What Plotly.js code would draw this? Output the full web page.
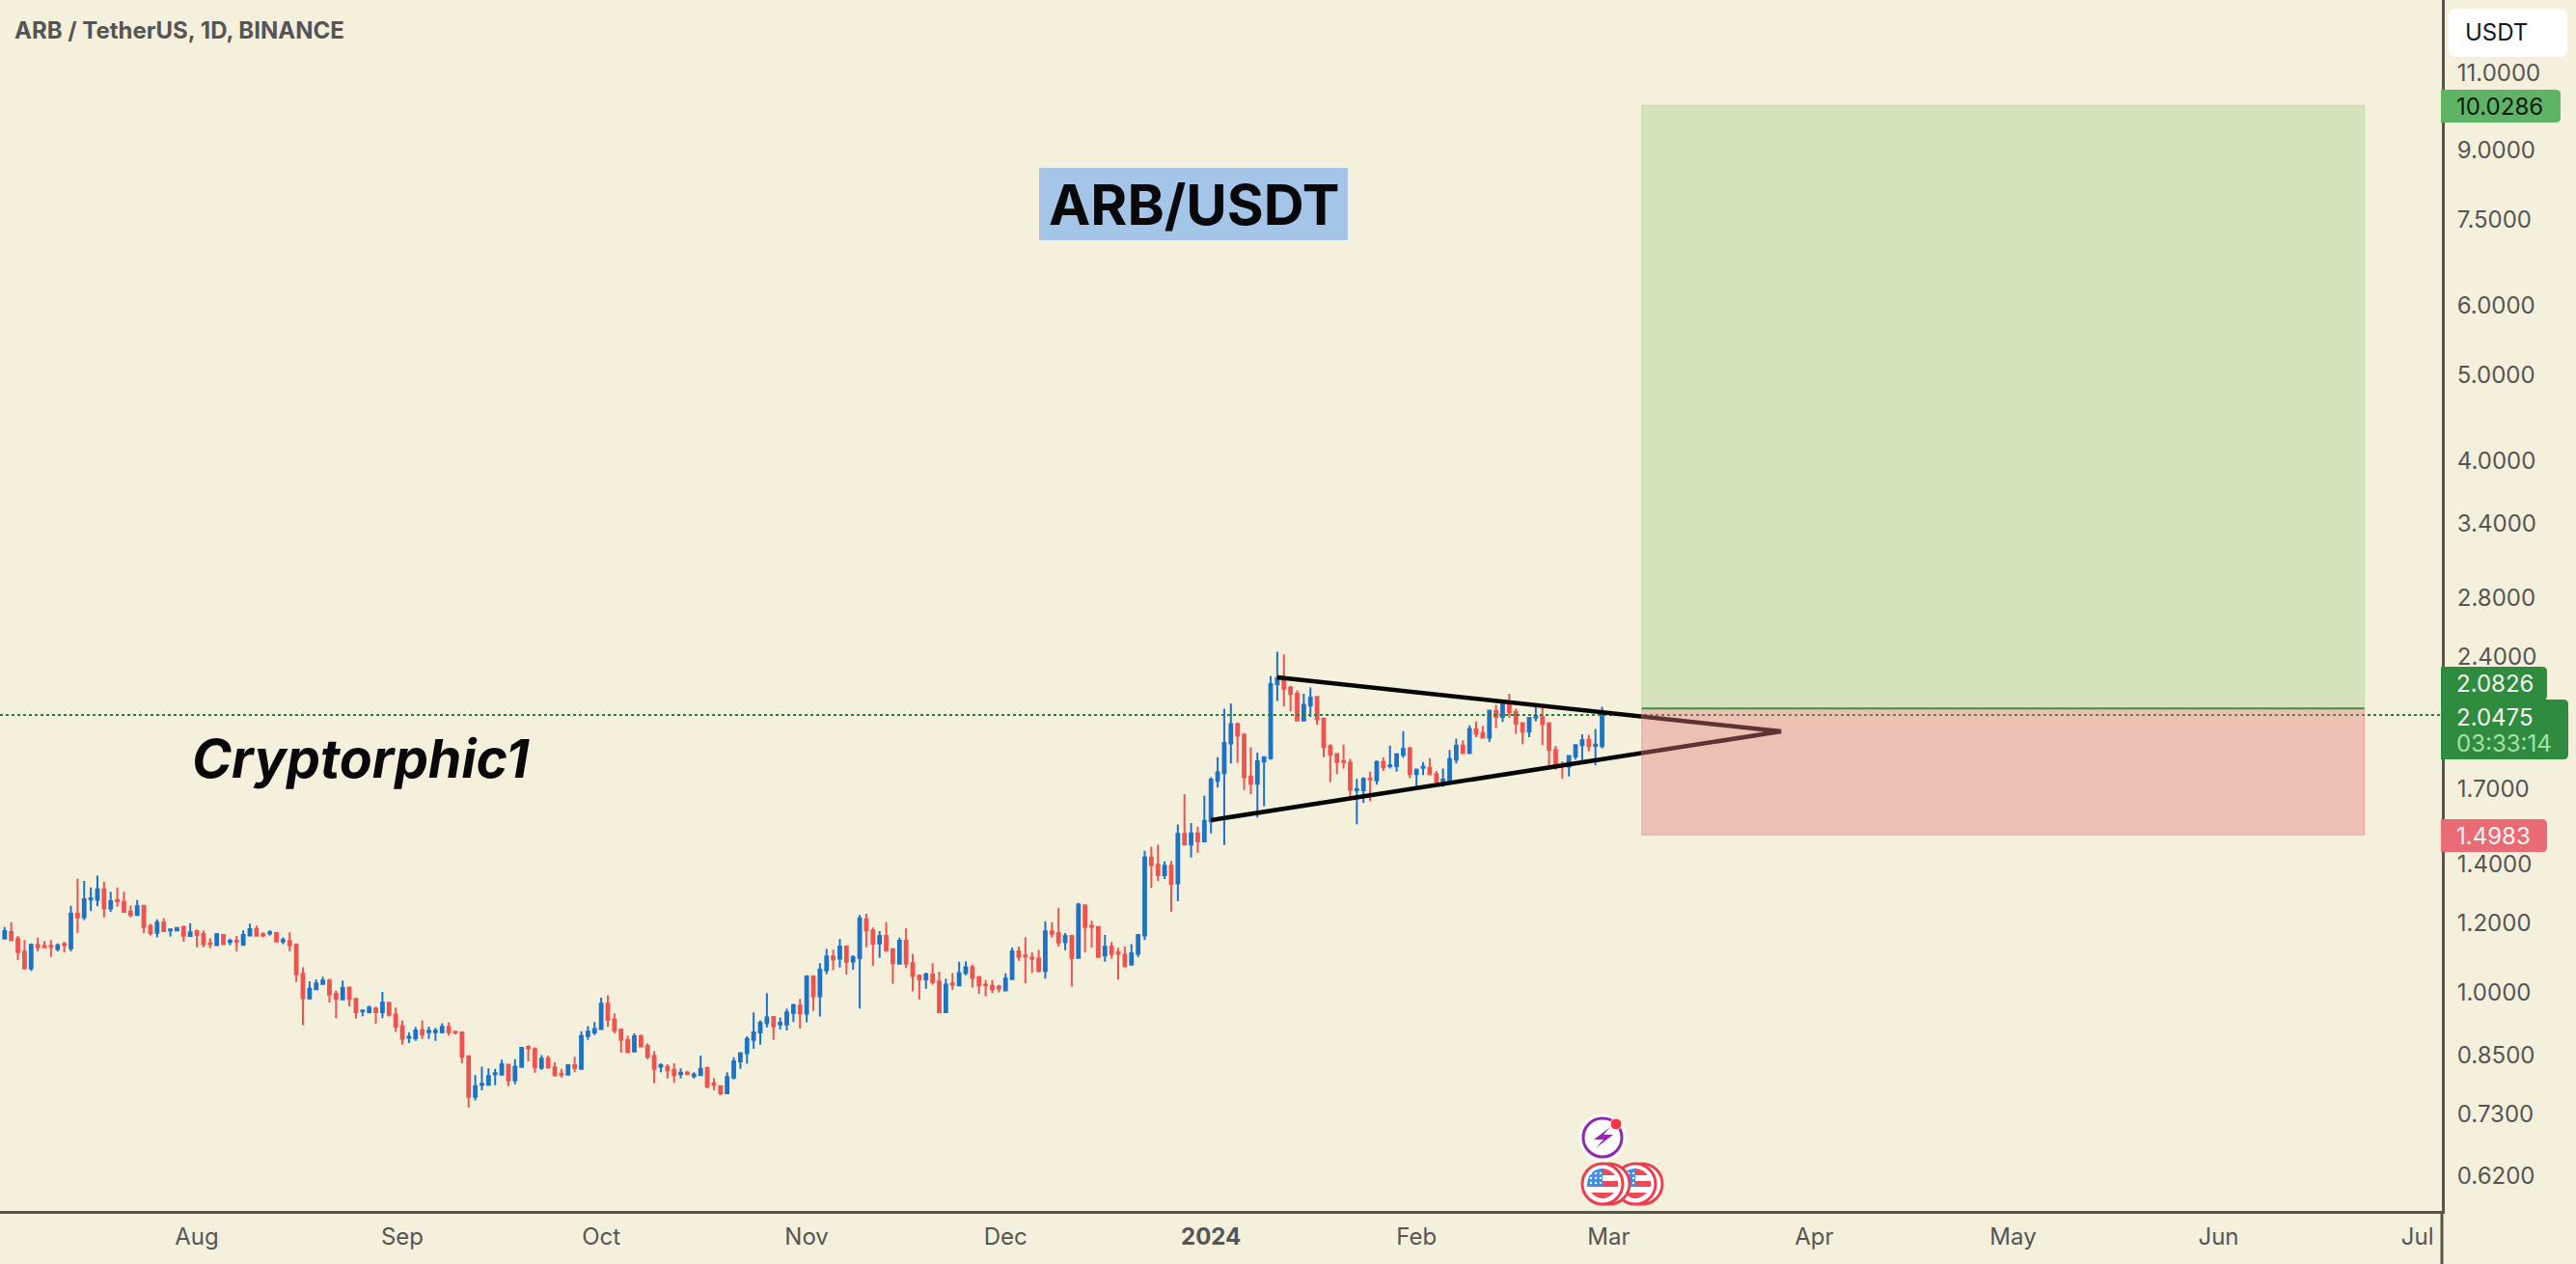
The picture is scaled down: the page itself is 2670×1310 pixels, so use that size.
<!DOCTYPE html>
<html>
<head>
<meta charset="utf-8">
<script src="https://cdn.plot.ly/plotly-3.0.1.min.js"></script>
<style>html,body{margin:0;padding:0;background:#F5F0DC;overflow:hidden}</style>
</head>
<body>
<div id="chart" style="width:2670px;height:1310px"></div>
<script>
const firstDay = '2023-07-03';
const opens = [1.143,1.163,1.143,1.105,1.058,1.125,1.122,1.122,1.113,1.127,1.115,1.220,1.208,1.266,1.265,1.300,1.237,1.264,1.258,1.227,1.216,1.245,1.181,1.161,1.192,1.168,1.168,1.178,1.151,1.166,1.157,1.130,1.124,1.154,1.133,1.137,1.125,1.153,1.172,1.157,1.159,1.160,1.135,1.136,1.125,1.043,.978,1.002,1.016,1.025,.990,.976,1.006,.977,.946,.944,.953,.944,.967,.938,.910,.883,.882,.901,.896,.896,.896,.908,.897,.895,.841,.757,.781,.781,.803,.802,.823,.790,.818,.862,.857,.816,.836,.817,.804,.802,.822,
.814,.887,.895,.903,.965,.926,.902,.878,.852,.887,.864,.842,.819,.819,.812,.803,.806,.799,.801,.816,.784,.778,.764,.796,.830,.848,.878,.895,.917,.932,.914,.914,.942,.960,.940,1.036,.984,1.053,1.091,1.085,1.120,1.077,1.087,1.202,1.168,1.129,1.151,1.112,1.071,1.137,1.072,1.038,1.028,1.041,1.022,.944,1.017,1.012,1.045,1.061,1.033,1.014,1.011,1.009,.999,1.029,1.106,1.094,1.088,1.085,1.051,1.165,1.160,1.133,1.151,1.087,1.247,1.182,1.178,1.094,1.119,1.103,1.096,1.068,1.099,
1.153,1.412,1.386,1.349,1.382,1.320,1.502,1.461,1.504,1.473,1.552,1.725,1.760,1.901,1.999,1.945,1.744,1.712,1.814,1.830,2.218,2.255,2.198,2.165,2.019,2.099,2.147,2.029,1.888,1.849,1.815,1.808,1.683,1.683,1.735,1.727,1.811,1.792,1.792,1.846,1.877,1.755,1.784,1.784,1.755,1.724,1.725,1.823,1.891,1.854,1.973,1.953,1.930,2.069,2.038,2.109,2.064,2.004,1.961,2.034,2.036,2.004,1.869,1.797,1.790,1.838,1.893,1.919,1.890,1.890];
const highs = [1.178,1.193,1.151,1.139,1.129,1.146,1.136,1.139,1.129,1.134,1.245,1.336,1.329,1.306,1.347,1.325,1.292,1.306,1.292,1.246,1.264,1.246,1.188,1.202,1.205,1.173,1.175,1.183,1.190,1.170,1.168,1.145,1.160,1.154,1.143,1.151,1.168,1.189,1.183,1.162,1.169,1.161,1.147,1.162,1.129,1.061,1.023,1.028,1.035,1.030,.999,1.025,1.008,.978,.950,.960,.957,.995,.968,.955,.924,.895,.908,.924,.909,.906,.917,.919,.899,.896,.843,.801,.819,.815,.814,.834,.824,.835,.862,.866,.861,.844,.843,.828,.814,.823,.840,
.898,.910,.920,.980,.986,.941,.903,.888,.893,.890,.870,.853,.826,.824,.826,.815,.810,.807,.843,.817,.795,.780,.807,.839,.849,.886,.943,.924,.992,.934,.931,.953,.965,.977,1.039,1.039,1.072,1.113,1.111,1.142,1.122,1.095,1.216,1.220,1.177,1.166,1.193,1.113,1.146,1.175,1.099,1.041,1.046,1.072,1.049,1.030,1.045,1.076,1.078,1.068,1.038,1.027,1.026,1.013,1.044,1.117,1.120,1.147,1.103,1.109,1.196,1.193,1.239,1.160,1.155,1.255,1.248,1.198,1.180,1.154,1.133,1.116,1.120,1.127,1.156,
1.437,1.453,1.460,1.398,1.400,1.539,1.666,1.545,1.531,1.660,1.741,1.835,2.081,2.111,2.008,1.953,1.882,1.857,1.835,2.267,2.415,2.398,2.211,2.183,2.165,2.200,2.152,2.033,1.898,1.851,1.896,1.826,1.734,1.741,1.767,1.818,1.833,1.891,1.854,1.963,1.885,1.781,1.811,1.830,1.770,1.781,1.869,1.925,1.917,1.993,2.013,1.991,2.074,2.102,2.124,2.165,2.081,2.008,2.036,2.102,2.085,2.008,1.890,1.815,1.844,1.896,1.947,1.945,1.975,2.092];
const lows = [1.143,1.137,1.081,1.054,1.051,1.106,1.118,1.090,1.106,1.103,1.106,1.160,1.200,1.228,1.244,1.208,1.226,1.242,1.226,1.208,1.212,1.160,1.152,1.147,1.163,1.149,1.167,1.134,1.149,1.118,1.118,1.115,1.123,1.126,1.123,1.106,1.124,1.152,1.151,1.147,1.152,1.134,1.127,1.106,1.021,.912,.975,1.000,1.013,.968,.929,.974,.958,.928,.934,.941,.916,.929,.933,.897,.867,.871,.876,.880,.880,.876,.893,.888,.891,.826,.736,.750,.770,.780,.780,.801,.778,.782,.817,.830,.806,.812,.814,.798,.796,.801,.807,
.814,.878,.889,.902,.908,.893,.849,.848,.851,.862,.835,.784,.807,.794,.785,.794,.801,.794,.799,.774,.770,.760,.764,.792,.814,.825,.858,.867,.907,.878,.902,.900,.920,.904,.919,.947,.933,1.042,1.053,1.060,1.041,1.054,.953,1.118,1.065,1.087,1.104,1.016,1.069,1.059,.996,.976,1.003,1.014,.943,.943,1.000,1.011,1.039,1.006,.990,.984,.992,.994,.996,1.028,1.079,1.018,1.045,1.047,1.030,1.146,1.120,1.109,1.009,1.087,1.103,1.116,1.087,1.076,1.085,1.028,1.060,1.067,1.090,
1.139,1.305,1.329,1.335,1.226,1.260,1.460,1.412,1.430,1.472,1.504,1.695,1.459,1.805,1.808,1.684,1.666,1.568,1.615,1.823,2.124,2.094,2.067,2.016,2.016,2.037,1.996,1.835,1.719,1.756,1.781,1.649,1.540,1.628,1.635,1.708,1.770,1.781,1.767,1.832,1.737,1.684,1.751,1.751,1.712,1.698,1.722,1.805,1.851,1.854,1.933,1.925,1.909,1.979,2.011,2.033,1.950,1.898,1.933,2.013,1.893,1.796,1.775,1.734,1.745,1.823,1.803,1.862,1.796,1.877];
const closes = [1.166,1.139,1.104,1.058,1.125,1.118,1.118,1.119,1.123,1.124,1.220,1.208,1.267,1.270,1.300,1.237,1.260,1.260,1.226,1.216,1.244,1.178,1.160,1.192,1.166,1.171,1.175,1.152,1.162,1.154,1.127,1.127,1.156,1.127,1.137,1.133,1.154,1.172,1.152,1.153,1.162,1.135,1.139,1.124,1.042,.979,1.003,1.017,1.025,.988,.977,1.005,.977,.944,.948,.955,.944,.967,.937,.909,.880,.885,.900,.891,.899,.899,.908,.896,.895,.840,.757,.778,.783,.799,.805,.824,.790,.819,.860,.859,.818,.836,.817,.801,.802,.822,.816,
.887,.897,.903,.965,.925,.900,.878,.851,.886,.863,.840,.814,.822,.811,.801,.806,.803,.802,.814,.777,.781,.764,.797,.830,.848,.880,.895,.918,.931,.910,.918,.943,.961,.940,1.036,.984,1.054,1.091,1.083,1.119,1.076,1.089,1.205,1.168,1.128,1.151,1.109,1.072,1.137,1.071,1.037,1.028,1.042,1.021,.944,1.014,1.014,1.045,1.061,1.032,1.012,1.012,1.002,1.004,1.030,1.106,1.090,1.091,1.085,1.051,1.165,1.158,1.131,1.151,1.087,1.249,1.178,1.179,1.090,1.119,1.098,1.099,1.064,1.100,1.154,
1.412,1.385,1.349,1.382,1.319,1.502,1.461,1.504,1.473,1.554,1.730,1.763,1.904,1.999,1.941,1.741,1.712,1.815,1.835,2.220,2.255,2.193,2.163,2.019,2.102,2.143,2.025,1.884,1.846,1.811,1.811,1.685,1.687,1.733,1.731,1.812,1.787,1.796,1.848,1.874,1.755,1.775,1.790,1.754,1.722,1.730,1.825,1.890,1.854,1.973,1.950,1.930,2.071,2.038,2.107,2.062,2.002,1.961,2.033,2.041,1.999,1.869,1.793,1.793,1.840,1.893,1.917,1.888,1.895,2.0475];

const yTicks = [11,9,7.5,6,5,4,3.4,2.8,2.4,1.7,1.4,1.2,1,0.85,0.73,0.62];
const yTickLabels = ['11.0000','9.0000','7.5000','6.0000','5.0000','4.0000','3.4000','2.8000','2.4000','1.7000','1.4000','1.2000','1.0000','0.8500','0.7300','0.6200'];
const xTicks = ['2023-08-01','2023-09-01','2023-10-01','2023-11-01','2023-12-01','2024-01-01','2024-02-01','2024-03-01','2024-04-01','2024-05-01','2024-06-01','2024-07-01'];
const xTickLabels = ['Aug','Sep','Oct','Nov','Dec','<b>2024</b>','Feb','Mar','Apr','May','Jun','Jul'];

const lastPrice = 2.0475;
const entryPrice = 2.0826;
const targetPrice = 10.0286;
const stopPrice = 1.4983;
const boxDates = ['2024-03-06','2024-06-23'];
const triangleDates = ['2024-01-11','2024-03-27','2024-01-01'];
const trianglePrices = [2.259,1.962,1.557];
const xRange = ['2023-07-02 07:12','2024-07-04 16:48'];

const W = 2531, H = 1255;
const FONT = 'Inter, "Noto Sans", sans-serif';
const dates = opens.map((_, i) => {
  const d = new Date(Date.parse(firstDay + 'T00:00:00Z') + i * 86400000);
  return d.toISOString().slice(0, 10);
});

const px = x => x / W;
const py = y => 1 - y / H;
const P = (x, y) => px(x) + ',' + py(y);
const base = {xref: 'paper', yref: 'paper', layer: 'above'};

function tagPath(x0, y0, x1, y1, r) {
  return 'M' + P(x0, y0) + ' L' + P(x1 - r, y0) + ' Q' + P(x1, y0) + ' ' + P(x1, y0 + r) +
         ' L' + P(x1, y1 - r) + ' Q' + P(x1, y1) + ' ' + P(x1 - r, y1) + ' L' + P(x0, y1) + ' Z';
}
function roundPath(x0, y0, x1, y1, r) {
  return 'M' + P(x0 + r, y0) + ' L' + P(x1 - r, y0) + ' Q' + P(x1, y0) + ' ' + P(x1, y0 + r) +
         ' L' + P(x1, y1 - r) + ' Q' + P(x1, y1) + ' ' + P(x1 - r, y1) + ' L' + P(x0 + r, y1) +
         ' Q' + P(x0, y1) + ' ' + P(x0, y1 - r) + ' L' + P(x0, y0 + r) + ' Q' + P(x0, y0) + ' ' + P(x0 + r, y0) + ' Z';
}
function circle(cx, cy, r, fill, lineColor, lineWidth) {
  return Object.assign({}, base, {type: 'circle', x0: px(cx - r), x1: px(cx + r), y0: py(cy + r), y1: py(cy - r),
    fillcolor: fill, line: {color: lineColor || fill, width: lineWidth || 0}});
}
function pathShape(path, fill) {
  return Object.assign({}, base, {type: 'path', path, fillcolor: fill, line: {width: 0}});
}
function flag(cx, cy) {
  const out = [];
  const red = '#EC4A55', blue = '#3D8FEA';
  out.push(circle(cx, cy, 21, '#FFFFFF', '#E9404F', 3));
  out.push(pathShape('M' + P(cx - 16, cy + 3) + ' L' + P(cx, cy + 3) + ' L' + P(cx, cy - 16) + ' Q' + P(cx - 16, cy - 15) + ' ' + P(cx - 16, cy + 3) + ' Z', blue));
  out.push(pathShape('M' + P(cx, cy - 16) + ' Q' + P(cx + 9, cy - 15) + ' ' + P(cx + 13, cy - 9) + ' L' + P(cx, cy - 9) + ' Z', red));
  out.push(pathShape('M' + P(cx, cy - 3) + ' L' + P(cx + 16, cy - 3) + ' L' + P(cx + 16, cy + 3) + ' L' + P(cx, cy + 3) + ' Z', red));
  out.push(pathShape('M' + P(cx - 12, cy + 9) + ' L' + P(cx + 12, cy + 9) + ' Q' + P(cx, cy + 21) + ' ' + P(cx - 12, cy + 9) + ' Z', red));
  for (let i = 0; i < 3; i++) for (let j = 0; j < 3; j++) {
    out.push(circle(cx - 12 + i * 5, cy - 11 + j * 5, 1.2, '#FFFFFF'));
  }
  return out;
}
const bolt = 'M' + P(1669, 1168) + ' L' + P(1652, 1181) + ' L' + P(1662, 1181) + ' L' + P(1654, 1190) +
             ' L' + P(1672, 1176) + ' L' + P(1662, 1176) + ' Z';

const shapes = [
  // ARB/USDT label
  Object.assign({}, base, {type: 'rect', x0: px(1077), x1: px(1397), y0: py(249), y1: py(174), fillcolor: '#A4C4E8', line: {width: 0}}),
  // axis extension to bottom
  Object.assign({}, base, {type: 'line', x0: px(2531), x1: px(2531), y0: py(H), y1: py(1310), line: {color: '#555550', width: 3}}),
  // USDT box
  pathShape(roundPath(2538, 9, 2661, 59, 8), '#FFFFFF'),
  // price tags
  pathShape(tagPath(2530, 93, 2654, 127, 5), '#5FB366'),
  pathShape(tagPath(2530, 691, 2640, 726, 5), '#2F8C3E'),
  pathShape(tagPath(2530, 725, 2662, 787, 5), '#2F8C3E'),
  pathShape(tagPath(2530, 849, 2640, 883, 5), '#E96B75'),
  // event icons
  circle(1661, 1179, 25, 'rgba(255,255,255,0.75)'),
  circle(1661, 1179, 20, '#FFFFFF', '#8E2AAE', 3),
  pathShape(bolt, '#8E2AAE'),
  circle(1675, 1165, 6, '#F23645', '#FFFFFF', 1),
  circle(1702, 1227, 21, '#FFFFFF', '#E9404F', 3)
].concat(flag(1695, 1227), [circle(1668, 1227, 21, '#FFFFFF', '#E9404F', 3)], flag(1661, 1227));

function label(x, y, text, size, color, anchor) {
  return {xref: 'paper', yref: 'paper', x: px(x), y: py(y), text, showarrow: false,
    xanchor: anchor || 'left', yanchor: 'middle', font: {family: FONT, size, color}};
}
const annotations = [
  label(13, 31, '<b>ARB / TetherUS, 1D, BINANCE</b>', 24, '#555555'),
  label(1237, 212, '<b>ARB/USDT</b>', 58, '#08080A', 'center'),
  label(197, 785, '<b><i>Cryptorphic1</i></b>', 55.5, '#08080A'),
  label(2553, 34, 'USDT', 24, '#131722'),
  label(2544, 110, '10.0286', 24, '#0C1A0C'),
  label(2544, 708, '2.0826', 24, '#F4F4F0'),
  label(2544, 743, '2.0475', 24, '#F4F4F0'),
  label(2544, 770, '03:33:14', 24, '#A8E0A8'),
  label(2544, 866, '1.4983', 24, '#F8F4F0')
];

const traces = [
  {type: 'candlestick', x: dates, open: opens, high: highs, low: lows, close: closes,
   increasing: {line: {color: '#1B72CC', width: 2}, fillcolor: '#26789C'},
   decreasing: {line: {color: '#EF5350', width: 2}, fillcolor: '#EF5350'},
   whiskerwidth: 0, hoverinfo: 'skip', showlegend: false},
  {type: 'scatter', mode: 'lines', x: xRange, y: [lastPrice, lastPrice],
   line: {color: '#2F7A3A', width: 2, dash: 'dot'}, hoverinfo: 'skip', showlegend: false},
  {type: 'scatter', mode: 'lines', x: triangleDates, y: trianglePrices,
   line: {color: '#050505', width: 4.5}, hoverinfo: 'skip', showlegend: false},
  {type: 'scatter', mode: 'lines', x: [boxDates[0], boxDates[1], boxDates[1], boxDates[0], boxDates[0]],
   y: [entryPrice, entryPrice, targetPrice, targetPrice, entryPrice], fill: 'toself',
   fillcolor: 'rgba(165,207,142,0.4)', line: {color: 'rgba(165,207,142,0.5)', width: 1}, hoverinfo: 'skip', showlegend: false},
  {type: 'scatter', mode: 'lines', x: [boxDates[0], boxDates[1], boxDates[1], boxDates[0], boxDates[0]],
   y: [entryPrice, entryPrice, stopPrice, stopPrice, entryPrice], fill: 'toself',
   fillcolor: 'rgba(225,120,120,0.4)', line: {color: 'rgba(225,120,120,0.5)', width: 1}, hoverinfo: 'skip', showlegend: false},
  {type: 'scatter', mode: 'lines', x: boxDates, y: [entryPrice, entryPrice],
   line: {color: '#3F9145', width: 2}, hoverinfo: 'skip', showlegend: false}
];

const layout = {
  width: 2670, height: 1310, autosize: false,
  margin: {l: 0, r: 139, t: 0, b: 55, pad: 0},
  paper_bgcolor: '#F5F0DC', plot_bgcolor: '#F5F0DC',
  showlegend: false, boxgap: 0.42,
  xaxis: {type: 'date', range: xRange, showgrid: false, zeroline: false,
    rangeslider: {visible: false}, tickmode: 'array', tickvals: xTicks, ticktext: xTickLabels,
    ticks: 'outside', ticklen: 3, tickcolor: 'rgba(0,0,0,0)', tickangle: 0,
    tickfont: {family: FONT, size: 24, color: '#555555'},
    showline: true, linecolor: '#555550', linewidth: 3, anchor: 'y'},
  yaxis: {type: 'log', range: [-0.25014, 1.12068], side: 'right', showgrid: false, zeroline: false,
    tickmode: 'array', tickvals: yTicks, ticktext: yTickLabels,
    ticks: 'outside', ticklen: 8, tickcolor: 'rgba(0,0,0,0)', ticklabelshift: 3,
    tickfont: {family: FONT, size: 24, color: '#555555'},
    showline: true, linecolor: '#555550', linewidth: 3, anchor: 'x'},
  shapes, annotations, hovermode: false
};

Plotly.newPlot('chart', traces, layout, {displayModeBar: false, staticPlot: true});
</script>
</body>
</html>
